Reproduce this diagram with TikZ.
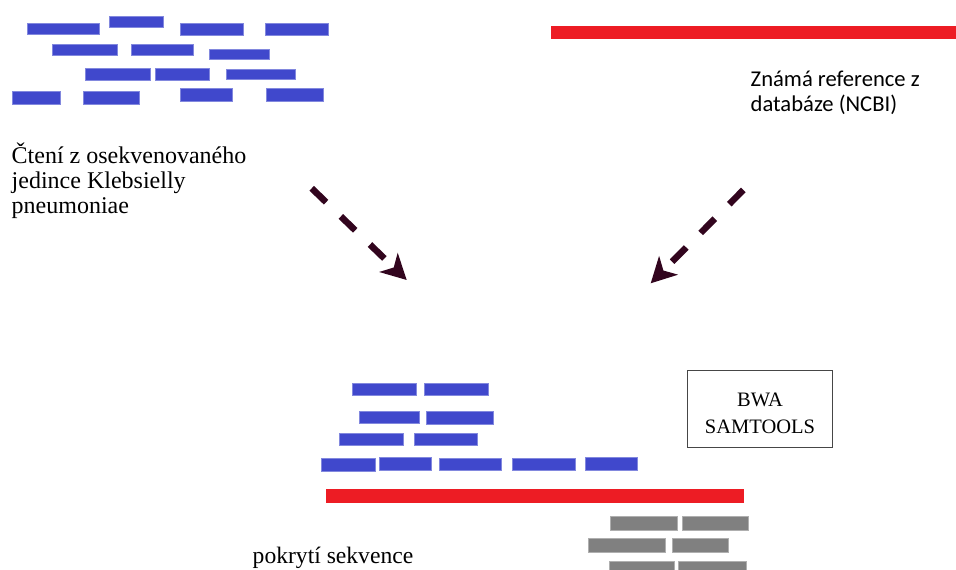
\documentclass[tikz,border=0pt]{standalone}
\usepackage{fontspec}
\setmainfont{Liberation Serif}
\newfontfamily\calib{Carlito}
\usetikzlibrary{arrows.meta}

\definecolor{readblue}{RGB}{64,72,204}
\definecolor{readedge}{RGB}{130,136,222}
\definecolor{refred}{RGB}{237,28,36}
\definecolor{mapgray}{RGB}{128,128,128}
\definecolor{mapedge}{RGB}{175,175,175}
\definecolor{arrowink}{RGB}{50,5,30}
\definecolor{boxline}{RGB}{70,70,70}

\tikzset{
  bluebar/.style={fill=readblue, draw=readedge, line width=0.6pt},
  redbar/.style={fill=refred, draw=none},
  graybar/.style={fill=mapgray, draw=mapedge, line width=0.6pt},
  flowarrow/.style={draw=arrowink, line width=6.5pt, dash pattern=on 20pt off 20.5pt,
    -{Stealth[length=25pt, width=26pt, inset=7pt, fill=arrowink]}},
  % multi-line blocks are placed by the baseline of their last line
  serifblock/.style={font=\fontsize{24}{25}\selectfont, align=left, inner sep=0pt, anchor=base west},
  sansblock/.style={font=\calib\fontsize{22.6}{25}\selectfont, align=left, inner sep=0pt, anchor=base west},
  toolbox/.style={draw=boxline, line width=1pt, fill=white, minimum width=145pt, minimum height=77pt,
    inner sep=0pt},
  tooltext/.style={font=\fontsize{20.5}{26.6}\selectfont, align=center, inner sep=0pt, anchor=base}
}

\begin{document}
\begin{tikzpicture}[x=1pt, y=-1pt]
\useasboundingbox (0,0) rectangle (956,570);
\fill[white] (0,0) rectangle (956,570);

% sequenced reads (top left)
\foreach \xa/\ya/\xb/\yb in {
  27/23/99/34, 109/16/163/27, 180/23/243/35, 265/23/328/35,
  52/44/117/55, 131/44/193/55, 209/49/269/59,
  85/68/150/80, 155/68/209/80, 226/69/295/79,
  12/91/60/104, 83/91/139/104, 180/88/232/101, 266/88/323/101}
  \path[bluebar] (\xa,\ya) rectangle (\xb,\yb);

% reference sequence (top right)
\path[redbar] (551,26) rectangle (957,39);

\node[serifblock] (readsTxt) at (11.5,213) {Čtení z osekvenovaného\\jedince Klebsielly\\pneumoniae};
\node[sansblock] (refTxt) at (750.5,111.5) {Známá reference z\\databáze (NCBI)};

% mapping result: reads aligned on the reference
\foreach \xa/\ya/\xb/\yb in {
  352/383/416/395, 424/383/488/395,
  359/411/419/423, 426/411/493/424,
  339/433/403/445, 414/433/477/445,
  321/458/375/471, 379/457/431/470, 439/458/501/470, 512/458/575/470, 585/457/637/470}
  \path[bluebar] (\xa,\ya) rectangle (\xb,\yb);

\path[redbar] (326,489) rectangle (744,503);

% coverage
\foreach \xa/\ya/\xb/\yb in {
  610/516/677/530, 682/516/748/530,
  588/538/665/552, 672/538/728/552,
  609/561/674/575, 678/561/746/575}
  \path[graybar] (\xa,\ya) rectangle (\xb,\yb);

\node[toolbox] (tools) at (759.8,409.2) {};
\node[tooltext] (toolsTxt) at (760,433.3) {BWA\\SAMTOOLS};

\node[serifblock, font=\fontsize{23.6}{25}\selectfont] (covTxt) at (252.5,563.5) {pokrytí sekvence};

% flow arrows
\coordinate (readsOut) at (311.7,188.3);
\coordinate (readsIn) at (406.7,280);
\coordinate (refOut) at (743.3,190);
\coordinate (refIn) at (650.7,283.3);
\draw[flowarrow] (readsOut) -- (readsIn);
\draw[flowarrow] (refOut) -- (refIn);
\end{tikzpicture}
\end{document}
